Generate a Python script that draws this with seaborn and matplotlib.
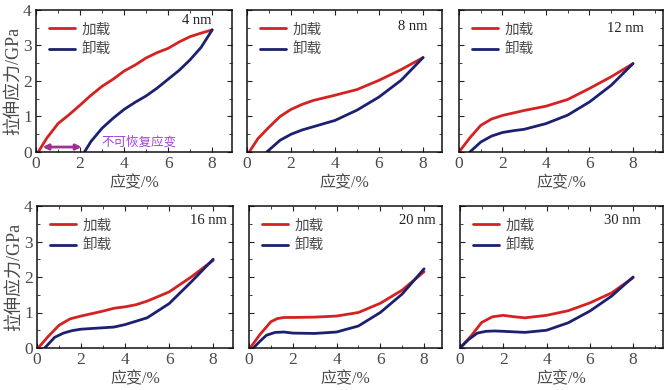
import numpy as np
import pandas as pd
import matplotlib
matplotlib.use("Agg")
import matplotlib.pyplot as plt
from matplotlib.ticker import MultipleLocator
import seaborn as sns

# sizes and curve data (strain in %, stress in GPa)
sizes = ["4 nm", "8 nm", "12 nm", "16 nm", "20 nm", "30 nm"]

load_x = [
    [0.1, 0.5, 1, 1.5, 2, 2.5, 3, 3.5, 4, 4.5, 5, 5.5, 6, 6.5, 7, 7.5, 8],
    [0.1, 0.5, 1, 1.5, 2, 2.5, 3, 4, 5, 6, 7, 8],
    [0.0, 0.5, 1, 1.5, 2, 2.5, 3, 4, 5, 6, 7, 8],
    [0.05, 0.5, 1, 1.5, 2, 3, 3.5, 4, 4.5, 5, 6, 7, 8],
    [0.05, 0.5, 1, 1.3, 1.6, 2, 3, 4, 5, 6, 7, 8],
    [0.0, 0.5, 1, 1.5, 2, 2.5, 3, 4, 5, 6, 7, 8],
]
load_y = [
    [0, 0.4, 0.8, 1.05, 1.32, 1.6, 1.85, 2.05, 2.28, 2.45, 2.65, 2.8, 2.92, 3.1, 3.25, 3.35, 3.44],
    [0, 0.38, 0.7, 1.0, 1.2, 1.34, 1.45, 1.6, 1.76, 2.02, 2.32, 2.66],
    [0, 0.4, 0.75, 0.93, 1.03, 1.1, 1.17, 1.29, 1.48, 1.79, 2.12, 2.49],
    [0, 0.32, 0.64, 0.82, 0.9, 1.04, 1.12, 1.16, 1.22, 1.32, 1.58, 2.0, 2.47],
    [0, 0.38, 0.74, 0.83, 0.86, 0.86, 0.87, 0.9, 1.0, 1.26, 1.63, 2.15],
    [0, 0.33, 0.72, 0.88, 0.92, 0.88, 0.85, 0.92, 1.05, 1.27, 1.55, 1.98],
]
unload_x = [
    [2.2, 2.5, 3, 3.5, 4, 4.5, 5, 5.5, 6, 6.5, 7, 7.5, 8],
    [0.9, 1.5, 2, 2.5, 3, 4, 5, 6, 7, 8],
    [0.5, 1, 1.5, 2, 2.5, 3, 4, 5, 6, 7, 8],
    [0.35, 0.8, 1.2, 1.6, 2, 3, 3.5, 4, 5, 6, 7, 8],
    [0.2, 0.5, 0.8, 1.2, 1.6, 2, 3, 4, 5, 6, 7, 8],
    [0.0, 0.4, 0.8, 1.2, 1.6, 2, 3, 4, 5, 6, 7, 8],
]
unload_y = [
    [0, 0.3, 0.67, 0.95, 1.2, 1.4, 1.58, 1.8, 2.05, 2.3, 2.6, 2.95, 3.44],
    [0, 0.33, 0.5, 0.62, 0.71, 0.89, 1.18, 1.55, 2.02, 2.66],
    [0, 0.28, 0.45, 0.55, 0.6, 0.64, 0.8, 1.04, 1.41, 1.88, 2.49],
    [0, 0.3, 0.42, 0.49, 0.53, 0.57, 0.59, 0.66, 0.85, 1.25, 1.86, 2.5],
    [0, 0.19, 0.36, 0.44, 0.45, 0.42, 0.41, 0.45, 0.62, 1.0, 1.52, 2.23],
    [0, 0.24, 0.42, 0.47, 0.48, 0.47, 0.44, 0.5, 0.71, 1.04, 1.46, 2.0],
]

# panel boxes in pixels: left, top, right, bottom
boxes = [
    (36, 10, 232, 152), (247, 10, 442, 152), (459, 10, 663, 152),
    (37, 206, 233, 348), (249, 206, 442, 348), (460, 206, 663, 348),
]
xmax = [8.9, 8.86, 9.38, 8.9, 8.82, 9.38]
# size label anchor (right edge x, centre y) in pixels
size_pos = [(211, 20), (427, 26), (644, 28), (227, 220), (436, 220), (641, 220)]

sns.set_style("ticks")
plt.rcParams["font.family"] = ["Liberation Serif", "Noto Sans CJK SC"]
plt.rcParams["axes.unicode_minus"] = False

W, H = 665, 390
fig = plt.figure(figsize=(W / 100, H / 100), dpi=100)
palette = {"加载": "#d42222", "卸载": "#1b2170"}
txt = "#4a4a4a"

for i, size in enumerate(sizes):
    l, t, r, b = boxes[i]
    ax = fig.add_axes([l / W, 1 - b / H, (r - l) / W, (b - t) / H])
    df = pd.concat([
        pd.DataFrame({"x": load_x[i], "y": load_y[i], "kind": "加载"}),
        pd.DataFrame({"x": unload_x[i], "y": unload_y[i], "kind": "卸载"}),
    ])
    sns.lineplot(data=df, x="x", y="y", hue="kind", palette=palette,
                 sort=False, estimator=None, lw=2.0, ax=ax)
    ax.set_xlim(0, xmax[i])
    ax.set_ylim(0, 4)
    ax.xaxis.set_major_locator(MultipleLocator(2))
    ax.xaxis.set_minor_locator(MultipleLocator(1))
    ax.yaxis.set_major_locator(MultipleLocator(1))
    ax.yaxis.set_minor_locator(MultipleLocator(0.5))
    ax.tick_params(which="both", direction="in", top=True, right=True,
                   labelsize=12.5, labelcolor=txt, color="#222222", pad=3)
    ax.tick_params(which="major", length=3.5)
    ax.tick_params(which="minor", length=2)
    for sp in ax.spines.values():
        sp.set_linewidth(1.1)
        sp.set_color("#111111")
    ax.set_xlabel("应变/%", fontsize=11.5, color=txt, labelpad=2)
    if i % 3 == 0:
        ax.set_ylabel("拉伸应力/GPa", fontsize=13, color=txt, labelpad=1)
    else:
        ax.set_ylabel("")
        ax.set_yticklabels([])
    ax.legend(loc="upper left", frameon=False, fontsize=10.5, handlelength=1.8,
              handletextpad=0.45, labelspacing=0.45, borderaxespad=0.5,
              labelcolor=txt)
    sx, sy = size_pos[i]
    fig.text(sx / W, 1 - sy / H, size, ha="right", va="center",
             fontsize=10.5, color="#222222")
    if i == 0:
        ax.annotate("", xy=(0.3, 0.14), xytext=(2.07, 0.14),
                    arrowprops=dict(arrowstyle="<|-|>", color="#a0308f", lw=2,
                                    mutation_scale=8, shrinkA=0, shrinkB=0))
        ax.text(2.95, 0.26, "不可恢复应变", fontsize=9, color="#a040e0",
                va="center", ha="left")

fig.savefig("out.png", dpi=100)
